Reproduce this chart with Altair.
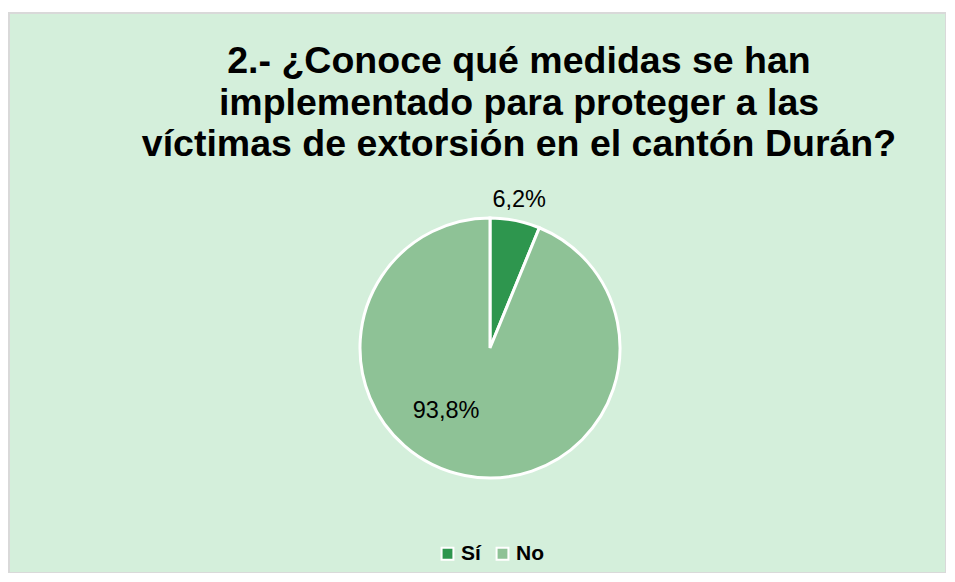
import altair as alt
import pandas as pd
import math

categories = ["Sí", "No"]
values = [6.2, 93.8]
labels = ["6,2%", "93,8%"]
order = [0, 1]
title_lines = [
    "2.- ¿Conoce qué medidas se han",
    "implementado para proteger a las",
    "víctimas de extorsión en el cantón Durán?",
]
colors = ["#2e964e", "#8ec296"]

df = pd.DataFrame({"cat": categories, "val": values, "lab": labels, "ord": order})

CX, CY = 481, 335
FONT = "Liberation Sans"

base = alt.Chart(df)

color = alt.Color(
    "cat:N",
    scale=alt.Scale(domain=categories, range=colors),
    sort=categories,
    legend=alt.Legend(
        title=None,
        orient="none",
        direction="horizontal",
        legendX=428,
        legendY=530,
        symbolType="square",
        symbolSize=140,
        symbolStrokeColor="white",
        symbolStrokeWidth=2,
        symbolOpacity=1,
        labelFont=FONT,
        labelFontSize=21,
        labelFontWeight="bold",
        labelColor="black",
        columnPadding=11,
        labelOffset=3,
    ),
)

pie = base.mark_arc(radius=130, stroke="white", strokeWidth=3).encode(
    theta=alt.Theta("val:Q", stack=True),
    color=color,
    order=alt.Order("ord:Q"),
    x=alt.value(CX),
    y=alt.value(CY),
)

stacked = (
    base.transform_stack(stack="val", groupby=[], as_=["v0", "v1"], sort=[alt.SortField("ord")])
    .transform_calculate(mid="(datum.v0 + datum.v1) / 2")
)
theta_mid = alt.Theta("mid:Q", scale=alt.Scale(domain=[0, 100], range=[0, 2 * math.pi]))

def label_layer(cat, radius, dx=0, dy=0):
    return stacked.transform_filter(alt.datum.cat == cat).mark_text(
        radius=radius, dx=dx, dy=dy, font=FONT, fontSize=23.5, color="black",
        align="center", baseline="middle",
    ).encode(theta=theta_mid, text="lab:N", x=alt.value(CX), y=alt.value(CY))

lab_si = label_layer("Sí", 151)
lab_no = label_layer("No", 77, dx=-29, dy=-13)

title = alt.Chart(pd.DataFrame({"a": [0]})).mark_text(
    text=title_lines,
    font=FONT,
    fontSize=37.5,
    fontWeight="bold",
    lineHeight=41.5,
    align="center",
    baseline="alphabetic",
    color="black",
).encode(x=alt.value(510), y=alt.value(60))

chart = (
    alt.layer(pie, lab_si, lab_no, title)
    .properties(
        width=937,
        height=560,
        padding={"left": 1, "top": 5, "right": 0, "bottom": 0},
        background="white",
    )
    .configure_view(fill="#d4efdb", stroke="#d9d9d9", strokeWidth=2)
)

chart.save("out.html", embed_options={"renderer": "svg", "actions": False})
